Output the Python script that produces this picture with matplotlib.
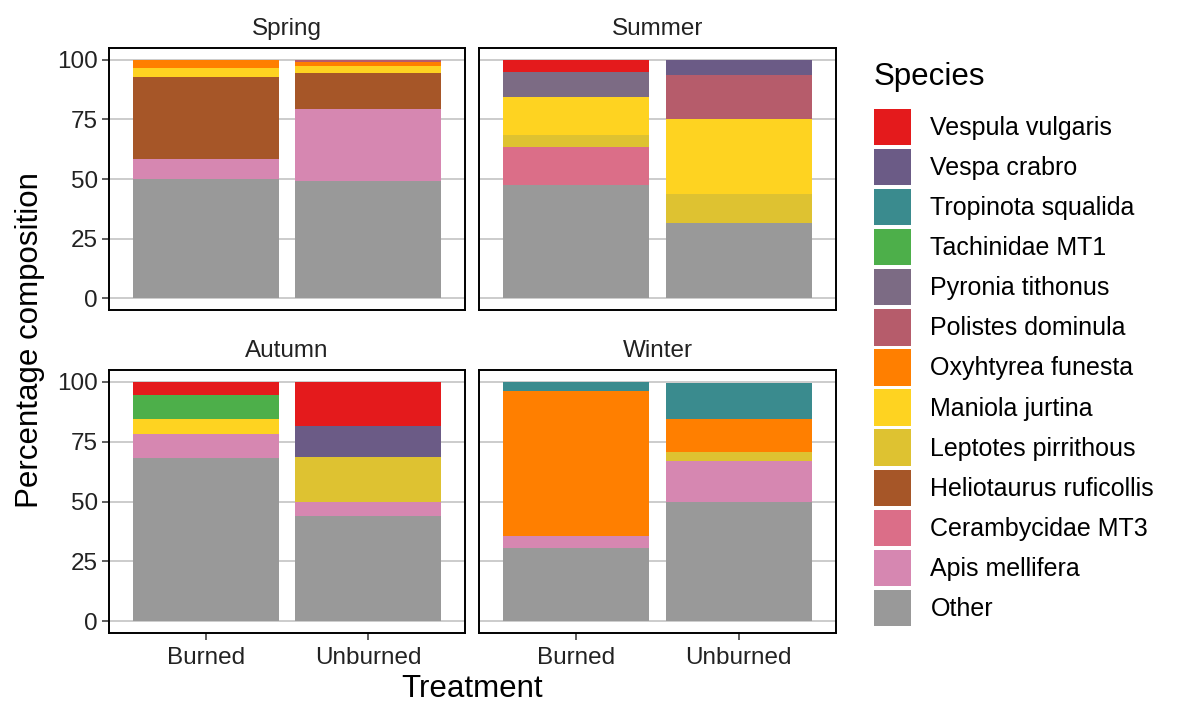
import matplotlib
matplotlib.use("Agg")
import matplotlib.pyplot as plt
from matplotlib.patches import Patch
import numpy as np

plt.rcParams['font.family'] = ['Liberation Sans', 'DejaVu Sans']

seasons = ['Spring', 'Summer', 'Autumn', 'Winter']
treatments = ['Burned', 'Unburned']

# stacking order bottom -> top
species = ['Other', 'Apis mellifera', 'Cerambycidae MT3', 'Heliotaurus ruficollis',
           'Leptotes pirrithous', 'Maniola jurtina', 'Oxyhtyrea funesta',
           'Polistes dominula', 'Pyronia tithonus', 'Tachinidae MT1',
           'Tropinota squalida', 'Vespa crabro', 'Vespula vulgaris']
colors = ['#999999', '#D687B1', '#DB6E88', '#A65628', '#DEC231', '#FED321',
          '#FF7F00', '#B65C6B', '#7C6B84', '#4DAF4A', '#3A8B8E', '#6B5B86', '#E41A1C']

# percentages per season: [Burned, Unburned]
spring = {'Other': [50.0, 49.0], 'Apis mellifera': [8.3, 30.2],
          'Heliotaurus ruficollis': [34.5, 15.3], 'Maniola jurtina': [3.7, 3.1],
          'Oxyhtyrea funesta': [3.5, 1.4], 'Polistes dominula': [0, 1.0]}
summer = {'Other': [47.5, 31.7], 'Cerambycidae MT3': [16.0, 0],
          'Leptotes pirrithous': [4.8, 12.2], 'Maniola jurtina': [16.0, 31.1],
          'Polistes dominula': [0, 18.6], 'Pyronia tithonus': [10.8, 0],
          'Vespa crabro': [0, 6.4], 'Vespula vulgaris': [4.9, 0]}
autumn = {'Other': [68.4, 43.9], 'Apis mellifera': [10.0, 5.8],
          'Leptotes pirrithous': [0, 19.0], 'Maniola jurtina': [5.9, 0],
          'Tachinidae MT1': [10.1, 0], 'Vespa crabro': [0, 12.8],
          'Vespula vulgaris': [5.6, 18.5]}
winter = {'Other': [30.4, 49.7], 'Apis mellifera': [5.1, 17.4],
          'Leptotes pirrithous': [0, 3.5], 'Oxyhtyrea funesta': [60.6, 13.9],
          'Tropinota squalida': [3.9, 15.2]}
season_data = [spring, summer, autumn, winter]

W, H = 1185, 704
fig = plt.figure(figsize=(W / 100, H / 100), dpi=100)

cols = [(109, 465), (479, 836)]
rows = [(48, 310), (370, 633)]
grid_c = '#C4C4C4'

for k, (name, data) in enumerate(zip(seasons, season_data)):
    r, c = divmod(k, 2)
    x0, x1 = cols[c]
    y0, y1 = rows[r]
    ax = fig.add_axes([x0 / W, 1 - y1 / H, (x1 - x0) / W, (y1 - y0) / H])
    x = np.arange(len(treatments))
    bottom = np.zeros(len(treatments))
    for sp, col in zip(species, colors):
        vals = np.array(data.get(sp, [0, 0]), dtype=float)
        ax.bar(x, vals, bottom=bottom, width=0.9, color=col, linewidth=0, zorder=3)
        bottom += vals
    ax.set_xlim(-0.6, 1.6)
    ax.set_ylim(-5, 105)
    ax.set_yticks([0, 25, 50, 75, 100])
    ax.yaxis.grid(True, color=grid_c, linewidth=1.2, zorder=0)
    ax.set_axisbelow(True)
    for s in ax.spines.values():
        s.set_linewidth(1.4)
        s.set_color('black')
    ax.tick_params(axis='both', length=5, width=1.1, color='#333333',
                   labelsize=17.5, labelcolor='#222222')
    ax.tick_params(axis='y', pad=3)
    ax.tick_params(axis='x', pad=5)
    ax.set_xticks(x)
    if c == 1:
        ax.tick_params(axis='y', left=False, labelleft=False)
    if r == 0:
        ax.tick_params(axis='x', bottom=False, labelbottom=False)
    else:
        ax.set_xticklabels(treatments)
    ax.annotate(name, xy=(0.5, 1), xycoords='axes fraction', xytext=(0, 14),
                textcoords='offset points', ha='center', va='center',
                fontsize=17.5, color='#222222')

fig.text(472.5 / W, 1 - 689 / H, 'Treatment', ha='center', va='center', fontsize=22.5)
fig.text(30 / W, 1 - 340 / H, 'Percentage composition', ha='center', va='center',
         rotation=90, fontsize=22.5)

# legend, top entry first
handles = [Patch(facecolor=col, edgecolor='none') for col in colors[::-1]]
leg = fig.legend(handles, species[::-1], loc='upper left',
                 bbox_to_anchor=(874 / W, 1 - 62 / H), frameon=False,
                 fontsize=18, title='Species', title_fontsize=22.5,
                 handlelength=1.46, handleheight=1.86, labelspacing=0.15,
                 handletextpad=0.8, borderpad=0, borderaxespad=0,
                 alignment='left')
leg._legend_box.sep = 12

fig.savefig('out.png', dpi=100)
